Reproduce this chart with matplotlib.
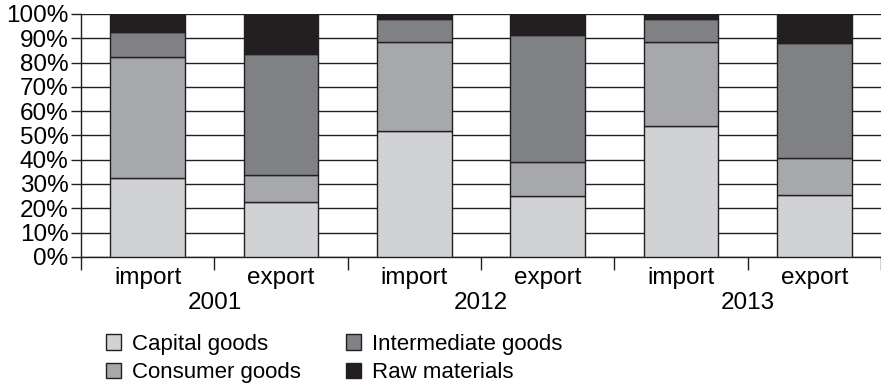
import numpy as np
import matplotlib.pyplot as plt
from matplotlib.transforms import blended_transform_factory

years = ['2001', '2012', '2013']
flows = ['import', 'export', 'import', 'export', 'import', 'export']

# shares in % (bottom to top)
capital      = [32.4, 22.5, 51.7, 25.2, 53.9, 25.4]
consumer     = [49.8, 11.1, 36.6, 14.0, 34.7, 15.5]
intermediate = [10.3, 50.1, 9.5, 52.3, 9.3, 47.2]
raw          = [7.5, 16.3, 2.2, 8.5, 2.1, 11.9]

names  = ['Capital goods', 'Consumer goods', 'Intermediate goods', 'Raw materials']
colors = ['#d1d2d4', '#a7a8ab', '#808184', '#231f20']

plt.rcParams['font.family'] = ['Liberation Sans', 'DejaVu Sans']

fig = plt.figure(figsize=(8.81, 3.88), dpi=100)
ax = fig.add_axes([0.092, 0.338, 0.908, 0.626])

x = np.arange(len(flows))
bottom = np.zeros(len(flows))
handles = []
for vals, name, c in zip([capital, consumer, intermediate, raw], names, colors):
    b = ax.bar(x, vals, width=0.56, bottom=bottom, color=c, edgecolor='#231f20',
               linewidth=1.0, label=name, zorder=3)
    handles.append(b)
    bottom += np.array(vals)

ax.set_xlim(-0.5, 5.5)
ax.set_ylim(0, 100)
ax.set_yticks(np.arange(0, 101, 10))
ax.set_yticklabels(['%d%%' % v for v in range(0, 101, 10)], fontsize=17.5)
ax.yaxis.grid(True, color='#231f20', linewidth=1.0, zorder=0)
ax.set_axisbelow(True)
for s in ['top', 'right']:
    ax.spines[s].set_visible(False)
for s in ['left', 'bottom']:
    ax.spines[s].set_color('#231f20')
    ax.spines[s].set_linewidth(1.0)
ax.tick_params(axis='y', length=7, width=1.0, color='#231f20', pad=2)

ax.set_xticks(x)
ax.set_xticklabels(flows, fontsize=17.5)
ax.tick_params(axis='x', which='major', length=0, pad=7)
ax.set_xticks(np.arange(-0.5, 5.6, 1), minor=True)
ax.tick_params(axis='x', which='minor', length=9, width=1.0, color='#231f20')

trans = blended_transform_factory(ax.transData, ax.transAxes)
for i, yr in enumerate(years):
    ax.text(2 * i + 0.5, -0.19, yr, transform=trans, ha='center', va='center',
            fontsize=17.5)

leg = fig.legend(handles=handles, loc='upper left', bbox_to_anchor=(0.12, 0.14),
                 ncol=2, frameon=False, handlelength=0.7,
                 handleheight=0.7, handletextpad=0.5, columnspacing=2.0,
                 labelspacing=0.35, borderaxespad=0, borderpad=0,
                 prop={'size': 16})

fig.savefig('out.png', dpi=100)
